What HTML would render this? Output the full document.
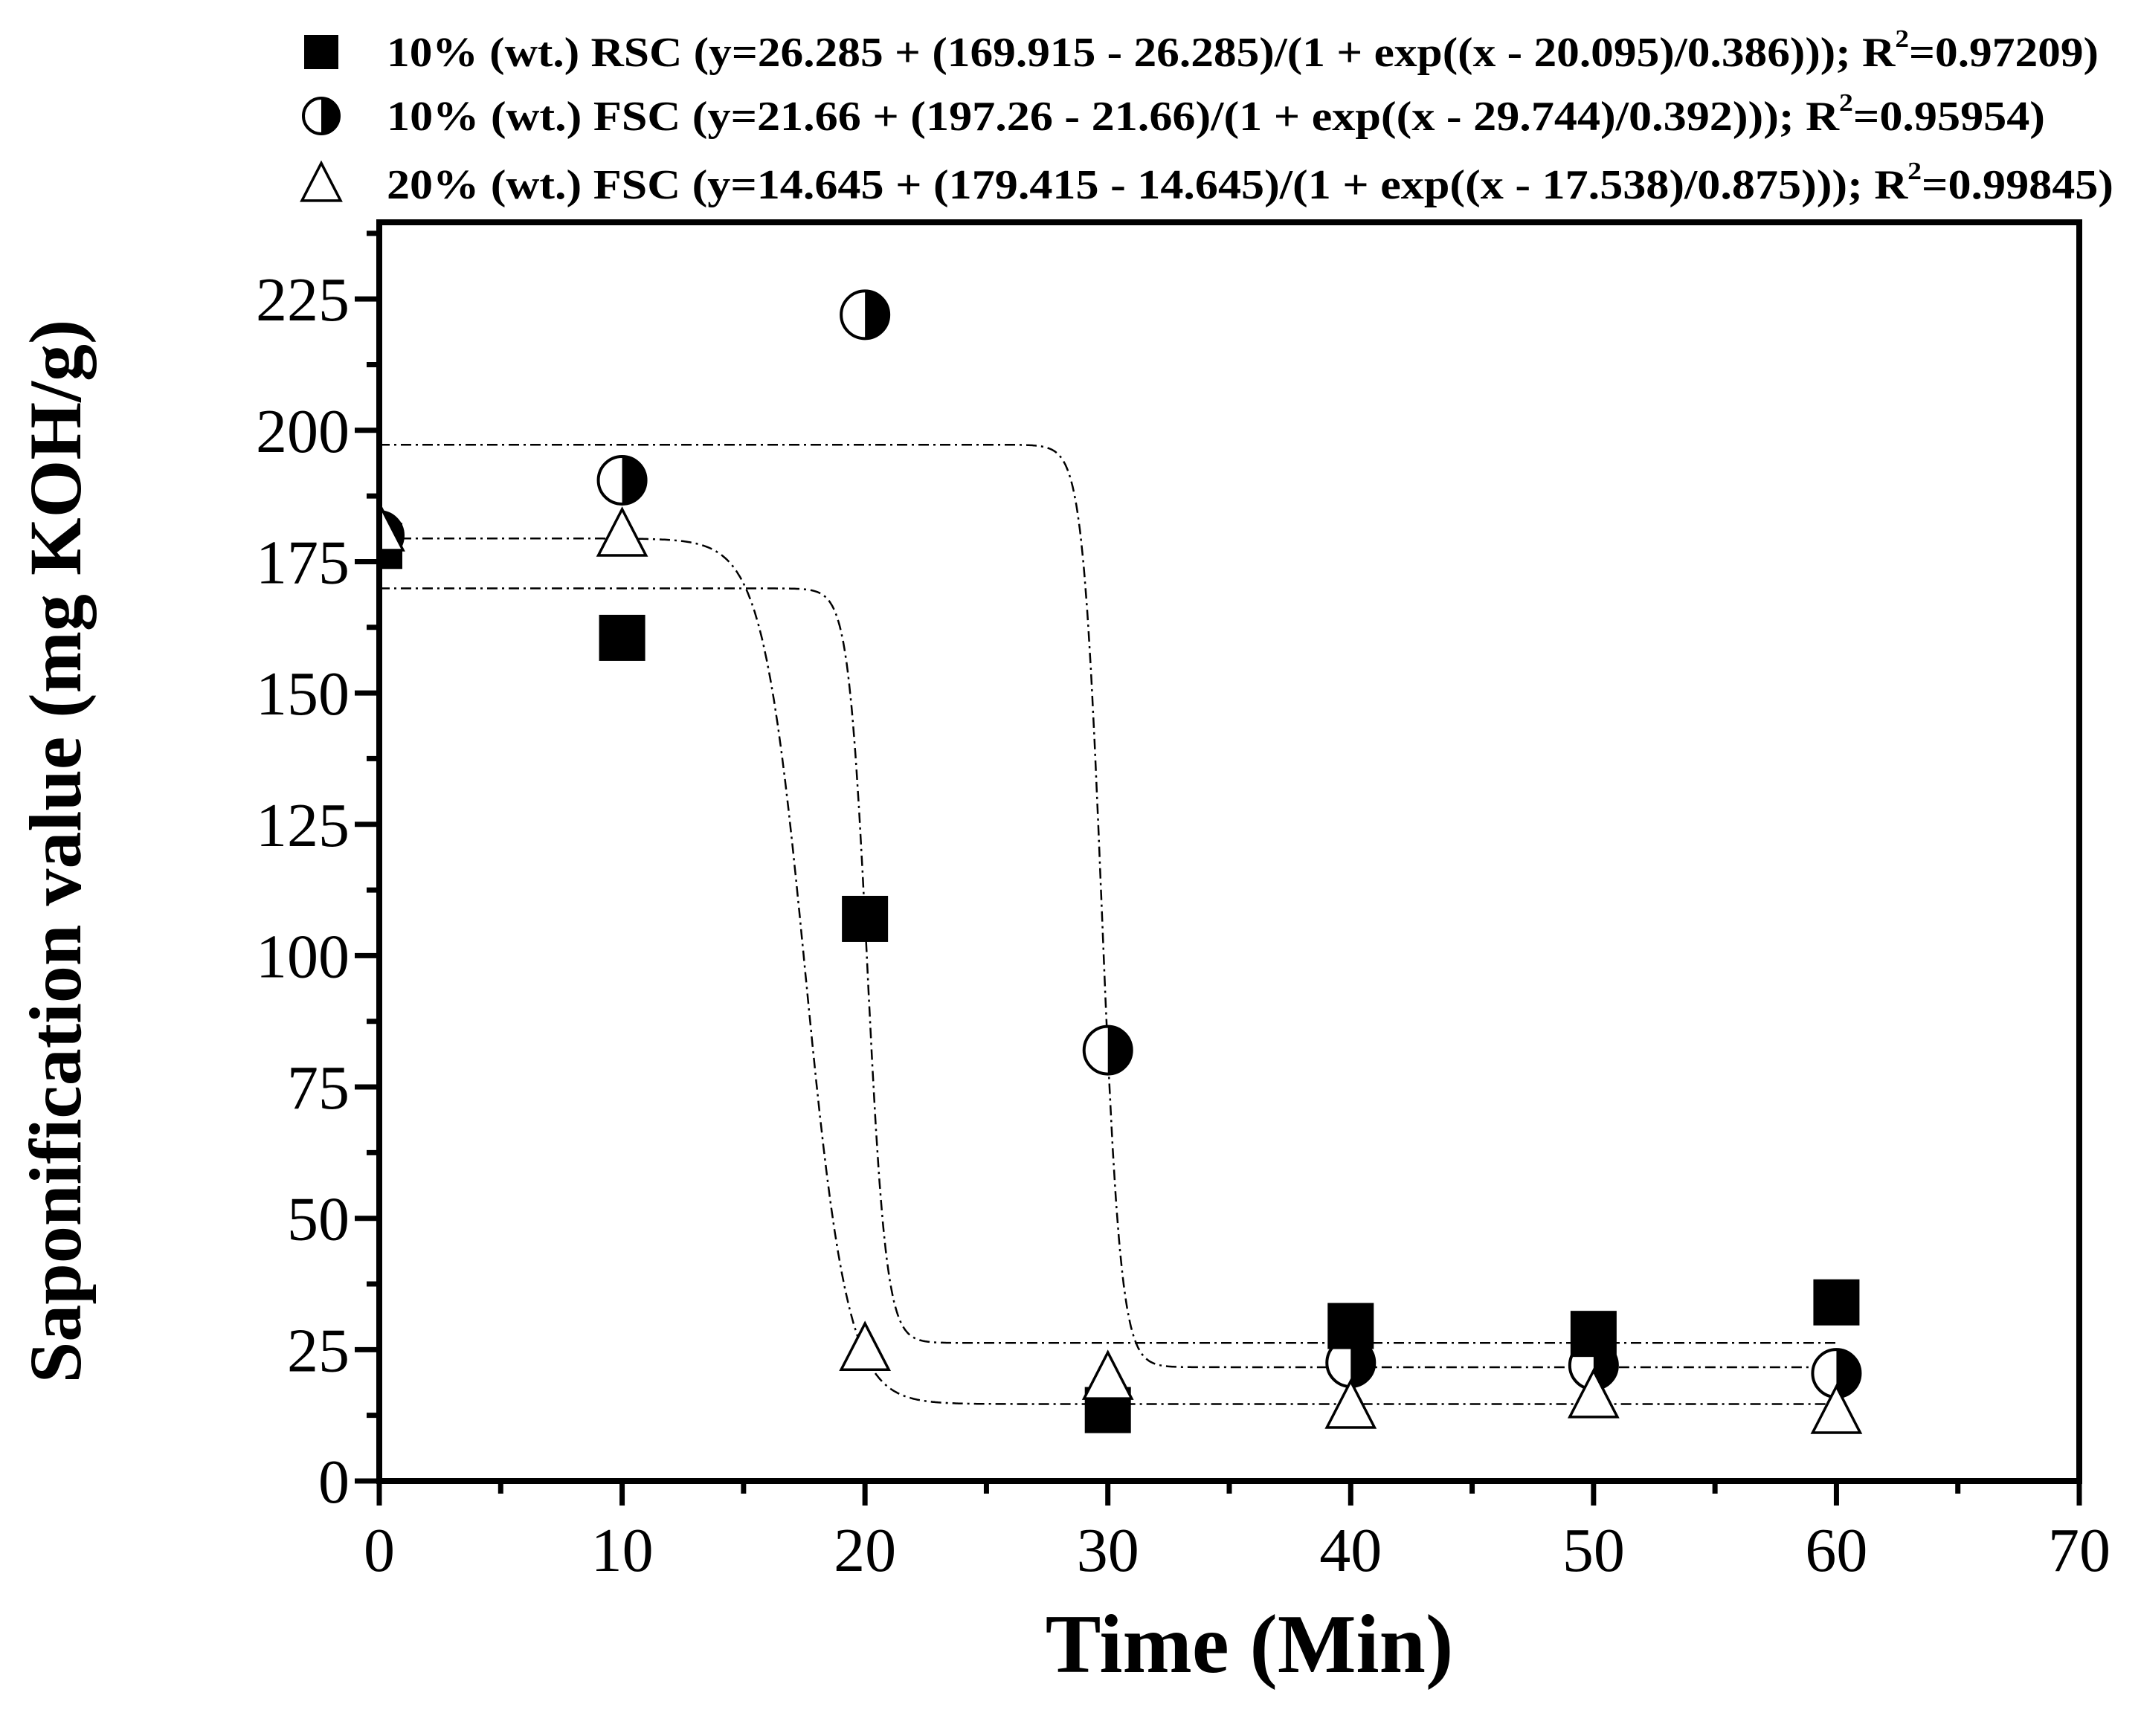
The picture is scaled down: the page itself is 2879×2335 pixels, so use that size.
<!DOCTYPE html>
<html><head><meta charset="utf-8"><style>
html,body{margin:0;padding:0;background:#fff;}
svg{display:block;font-family:"Liberation Serif",serif;}
</style></head><body>
<svg id="chart" width="2879" height="2335" viewBox="0 0 2879 2335">
<defs><clipPath id="plotclip"><rect x="514" y="303" width="2278" height="1685"/></clipPath></defs>
<g id="legend"></g>
<g id="axes"></g>
<g id="curves"></g>
<g id="marks" clip-path="url(#plotclip)"></g>
<text x="1680" y="2249" font-size="112" font-weight="bold" text-anchor="middle">Time (Min)</text>
<text transform="translate(108,1145) rotate(-90)" font-size="100" font-weight="bold" text-anchor="middle">Saponification value  (mg KOH/g)</text>
</svg>
<script>
const xTicks = [0,10,20,30,40,50,60,70];
const yTicks = [0,25,50,75,100,125,150,175,200,225];
const times = [0,10,20,30,40,50,60];
const rscValues = [178,160.5,107,13.5,29.5,28,34];
const fsc10Values = [180,190.5,222,82,22.5,22,20.5];
const fsc20Values = [181,180,25,19.5,14,16,13];
const rscFit = [26.285,169.915,20.095,0.386];
const fsc10Fit = [21.66,197.26,29.744,0.392];
const fsc20Fit = [14.645,179.415,17.538,0.875];
const legendLabels = [
 "10% (wt.) RSC (y=26.285 + (169.915 - 26.285)/(1 + exp((x - 20.095)/0.386))); R",
 "10% (wt.) FSC (y=21.66 + (197.26 - 21.66)/(1 + exp((x - 29.744)/0.392))); R",
 "20% (wt.) FSC (y=14.645 + (179.415 - 14.645)/(1 + exp((x - 17.538)/0.875))); R"];
const legendR2 = ["=0.97209)","=0.95954)","=0.99845)"];

const NS="http://www.w3.org/2000/svg";
const X0=510,X1=2796,Y0=1992,YT=299,XMAX=70,YMAX=239.6;
const sx=v=>X0+(X1-X0)*v/XMAX;
const sy=v=>Y0-(Y0-YT)*v/YMAX;
function mk(tag,attrs,parent){const e=document.createElementNS(NS,tag);for(const k in attrs)e.setAttribute(k,attrs[k]);parent.appendChild(e);return e;}
const axes=document.getElementById('axes');
const frame=mk('rect',{x:X0,y:YT,width:X1-X0,height:Y0-YT,fill:'none',stroke:'#000','stroke-width':8},axes);


xTicks.forEach(v=>{
 const t=mk('line',{x1:sx(v),x2:sx(v),y1:Y0,y2:Y0+33,stroke:'#000','stroke-width':7},axes);
 
 
 if(v<XMAX){const m=mk('line',{x1:sx(v+5),x2:sx(v+5),y1:Y0,y2:Y0+17,stroke:'#000','stroke-width':7},axes);
 
 }
 const l=mk('text',{x:sx(v),y:2113,'font-size':84,'text-anchor':'middle'},axes);l.textContent=v;
 
 
});
yTicks.forEach(v=>{
 const t=mk('line',{x1:X0-33,x2:X0,y1:sy(v),y2:sy(v),stroke:'#000','stroke-width':7},axes);
 
 
 const m=mk('line',{x1:X0-17,x2:X0,y1:sy(v+12.5),y2:sy(v+12.5),stroke:'#000','stroke-width':7},axes);
 
 
 const l=mk('text',{x:470,y:sy(v)+29,'font-size':84,'text-anchor':'end'},axes);l.textContent=v;
 
 
});
const curves=document.getElementById('curves');
[[rscFit,'rsc-fit-curve'],[fsc10Fit,'fsc10-fit-curve'],[fsc20Fit,'fsc20-fit-curve']].forEach(([p,n])=>{
 let d='';for(let x=0;x<=60.001;x+=0.05){const y=p[0]+(p[1]-p[0])/(1+Math.exp((x-p[2])/p[3]));d+=(d?'L':'M')+sx(x).toFixed(1)+','+sy(y).toFixed(1);}
 const c=mk('path',{d:d,fill:'none',stroke:'#000','stroke-width':2.5,'stroke-dasharray':'14,6,3,6'},curves);
 
 
});
const marks=document.getElementById('marks');
function square(cx,cy,g,s){return mk('rect',{x:cx-s/2,y:cy-s/2,width:s,height:s,fill:'#000'},g);}
function halfCircle(cx,cy,g,r){const gg=mk('g',{},g);
 mk('circle',{cx:cx,cy:cy,r:r,fill:'#fff',stroke:'#000','stroke-width':4},gg);
 mk('path',{d:`M${cx},${cy-r}A${r},${r} 0 0 1 ${cx},${cy+r}Z`,fill:'#000'},gg);return gg;}
function tri(cx,cy,g,s){return mk('polygon',{points:`${cx},${cy-s*0.55} ${cx+s/2},${cy+s*0.42} ${cx-s/2},${cy+s*0.42}`,fill:'#fff',stroke:'#000','stroke-width':3.5},g);}
times.forEach((t,i)=>{const e=halfCircle(sx(t),sy(fsc10Values[i]),marks,32);
 
 });
times.forEach((t,i)=>{const e=square(sx(t),sy(rscValues[i]),marks,62);
 
 });
times.forEach((t,i)=>{const e=tri(sx(t),sy(fsc20Values[i]),marks,64);
 
 });
const legend=document.getElementById('legend');
const rowsY=[70,156,248], ends=[2822,2750,2842];
legendLabels.forEach((lab,i)=>{
 const cy=rowsY[i];
 let m;
 if(i===0)m=square(432,cy,legend,46);else if(i===1)m=halfCircle(432,cy,legend,24);else m=tri(432,cy,legend,52);
 
 
 const t=mk('text',{x:520,y:cy+19,'font-size':56,'font-weight':'bold'},legend);
 
 
 const a=mk('tspan',{},t);a.textContent=lab;
 const b=mk('tspan',{dy:-26,'font-size':34},t);b.textContent='2';
 const c=mk('tspan',{dy:26},t);c.textContent=legendR2[i];
 t.setAttribute('textLength',ends[i]-520);
 t.setAttribute('lengthAdjust','spacingAndGlyphs');
});
</script>
</body></html>
